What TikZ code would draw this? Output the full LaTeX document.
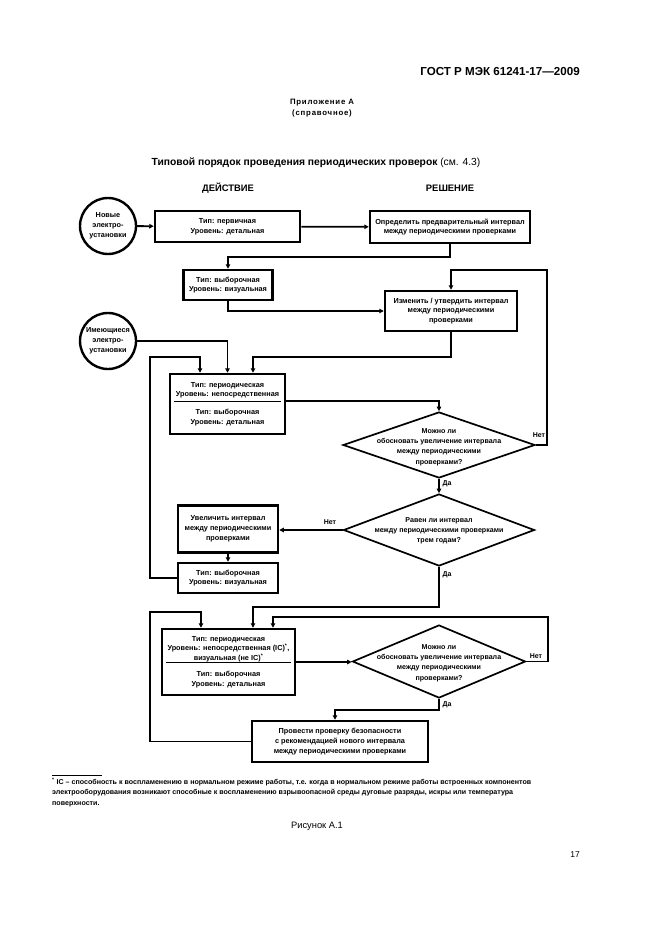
\documentclass[tikz,border=0pt]{standalone}
\usepackage{fontspec}
\setmainfont{Liberation Sans}
\usetikzlibrary{shapes.geometric,arrows.meta,calc}
\begin{document}
\begin{tikzpicture}[x=1pt,y=-1pt,
  box/.style={draw,line width=2.5pt,rectangle,inner sep=0pt,align=center,font=\bfseries\fontsize{7.3}{9.8}\selectfont},
  conn/.style={line width=1.8pt,-{Triangle[length=4.5pt,width=4.5pt]}},
  dia/.style={draw,diamond,line width=1.7pt,inner sep=0pt},
  dtext/.style={align=center,font=\bfseries\fontsize{7.1}{10.2}\selectfont,inner sep=0pt},
  circ/.style={draw,circle,line width=2.4pt,minimum size=56pt,inner sep=0pt,align=center,font=\bfseries\fontsize{7.3}{9.8}\selectfont},
  lbl/.style={font=\bfseries\fontsize{7}{8}\selectfont,inner sep=0pt},
  divider/.style={line width=1pt}]

\fill[white] (0,0) rectangle (661,936);
\useasboundingbox (0,0) rectangle (661,936);

% header texts
\node[anchor=east,font=\bfseries\fontsize{11.6}{13}\selectfont,inner sep=0pt] (hdr) at (580,72) {ГОСТ Р МЭК 61241-17—2009};
\node[align=center,font=\bfseries\fontsize{7.8}{10.5}\selectfont\addfontfeatures{LetterSpace=10},inner sep=0pt] (app) at (322,108) {Приложение А\\(справочное)};
\node[font=\fontsize{10.3}{12}\selectfont,inner sep=0pt] (title) at (316,163) {\textbf{Типовой порядок проведения периодических проверок} (см. 4.3)};
\node[font=\bfseries\fontsize{9.4}{11}\selectfont,inner sep=0pt] (hact) at (228,188) {ДЕЙСТВИЕ};
\node[font=\bfseries\fontsize{9.4}{11}\selectfont,inner sep=0pt] (hdec) at (450,188) {РЕШЕНИЕ};

% circles
\node[circ] (c1) at (108,226) {Новые\\электро-\\установки};
\node[circ] (c2) at (108,341) {Имеющиеся\\электро-\\установки};

% boxes
\node[box,minimum width=145pt,minimum height=31pt] (b1) at (227.5,226.5) {Тип: первичная\\Уровень: детальная};
\node[box,minimum width=160pt,minimum height=32pt] (b2) at (450,227) {Определить предварительный интервал\\между периодическими проверками};
\node[box,minimum width=89pt,minimum height=30pt] (b3) at (228,285) {Тип: выборочная\\Уровень: визуальная};
\node[box,minimum width=132pt,minimum height=40pt] (b4) at (451,311) {Изменить / утвердить интервал\\между периодическими\\проверками};
\node[box,minimum width=115pt,minimum height=60pt] (b5) at (227.5,404) {Тип: периодическая\\Уровень: непосредственная\\[8pt]Тип: выборочная\\Уровень: детальная};
\node[box,minimum width=100pt,minimum height=47pt] (b6) at (228,529) {Увеличить интервал\\между периодическими\\проверками};
\node[box,minimum width=100pt,minimum height=30pt] (b7) at (228,578) {Тип: выборочная\\Уровень: визуальная};
\node[box,minimum width=133pt,minimum height=66pt] (b8) at (228.5,662) {Тип: периодическая\\Уровень: непосредственная (IC)\textsuperscript{*},\\визуальная (не IC)\textsuperscript{*}\\[6pt]Тип: выборочная\\Уровень: детальная};
\node[box,minimum width=176pt,minimum height=41pt] (b9) at (340,741.5) {Провести проверку безопасности\\с рекомендацией нового интервала\\между периодическими проверками};

% dividers
\draw[divider] ($(b5.west)+(5,-3)$) -- ($(b5.east)+(-5,-3)$);
\draw[divider] ($(b8.west)+(5,0)$) -- ($(b8.east)+(-5,0)$);

% diamonds
\node[dia,minimum width=192pt,minimum height=66pt] (d1) at (439,445) {};
\node[dtext] (t1) at (439,447) {Можно ли\\обосновать увеличение интервала\\между периодическими\\проверками?};
\node[dia,minimum width=191pt,minimum height=72pt] (d2) at (439,530) {};
\node[dtext] (t2) at (439,531) {Равен ли интервал\\между периодическими проверками\\трем годам?};
\node[dia,minimum width=173pt,minimum height=73pt] (d3) at (439,661.5) {};
\node[dtext] (t3) at (439,663) {Можно ли\\обосновать увеличение интервала\\между периодическими\\проверками?};

% bend coordinates
\coordinate (k1) at (547,270);
\coordinate (k2) at (150,357);
\coordinate (k3) at (451,357);
\coordinate (k4) at (439,607);
\coordinate (k5) at (548,617);
\coordinate (k6) at (150,612);
\coordinate (k7) at (439,710);

% connectors
\draw[conn] (c1) -- (b1);
\draw[conn] (b1) -- (b2);
\draw[conn] (b2.south) -- ++(0,13) -| (b3.north);
\draw[conn] (b3.south) |- (b4.west);
\draw[conn] (d1.east) -| (k1) -| (b4.north);
\draw[conn] (c2.east) -| (b5.north);
\draw[conn] (b4.south) -- (k3) -| ([xshift=25.5pt]b5.north);
\draw[conn] (b7.west) -| (k2) -| ([xshift=-27.5pt]b5.north);
\draw[conn] ([yshift=3pt]b5.east) -| (d1.north);
\draw[conn] (d1.south) -- (d2.north);
\draw[conn] (d2.west) -- (d2.west -| b6.east);
\draw[conn] (b6.south) -- (b7.north);
\draw[conn] (d2.south) -- (k4) -| ([xshift=24.5pt]b8.north);
\draw[conn] (d3.east) -| (k5) -| ([xshift=44.5pt]b8.north);
\draw[conn] (b9.west) -| (k6) -| ([xshift=-27.5pt]b8.north);
\draw[conn] (b8.east) -- (b8.east -| d3.west);
\draw[conn] (d3.south) -- (k7) -| ([xshift=-5pt]b9.north);

% connector labels
\node[lbl] (n1) at (539,435) {Нет};
\node[lbl] (y1) at (447,484) {Да};
\node[lbl] (n2) at (330,522) {Нет};
\node[lbl] (y2) at (447,575) {Да};
\node[lbl] (n3) at (536,656) {Нет};
\node[lbl] (y3) at (447,705) {Да};

% footnote
\coordinate (fl1) at (52,775);
\coordinate (fl2) at (102,775);
\draw[line width=0.7pt] (fl1) -- (fl2);
\node[anchor=north west,align=left,inner sep=0pt,font=\bfseries\fontsize{7.1}{10.3}\selectfont] (foot) at (52,778) {\textsuperscript{*} IC – способность к воспламенению в нормальном режиме работы, т.е. когда в нормальном режиме работы встроенных компонентов\\электрооборудования возникают способные к воспламенению взрывоопасной среды дуговые разряды, искры или температура\\поверхности.};
\node[font=\fontsize{9.3}{10}\selectfont,inner sep=0pt] (fig) at (317,826) {Рисунок А.1};
\node[font=\fontsize{8.5}{9}\selectfont,inner sep=0pt] (pg) at (575,855) {17};
\end{tikzpicture}
\end{document}
